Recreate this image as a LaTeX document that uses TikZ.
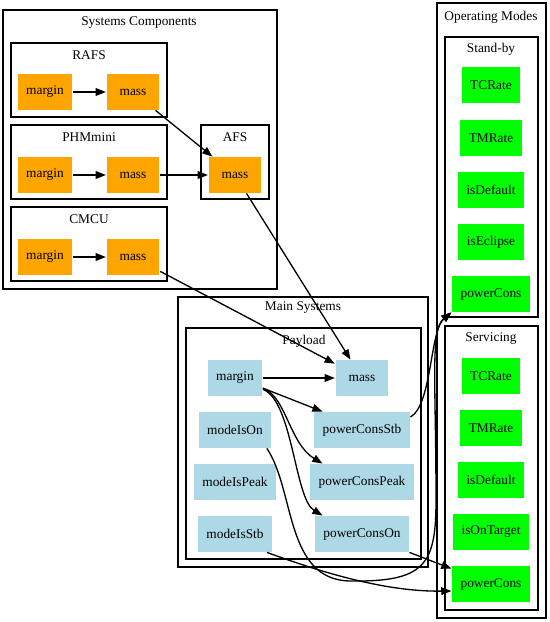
\documentclass[tikz,border=0pt]{standalone}
\usepackage{fontspec}
\setmainfont{Liberation Serif}
\usetikzlibrary{arrows.meta}
\definecolor{gvorange}{HTML}{FFA500}
\definecolor{gvblue}{HTML}{ADD8E6}
\definecolor{gvgreen}{HTML}{00FF00}

\begin{document}
\begin{tikzpicture}[x=0.02cm, y=-0.02cm, font=\fontsize{7.6}{9}\selectfont,
    >={Triangle[length=5.8pt,width=4.4pt]}, line width=0.75pt,
    box/.style={shape=rectangle, minimum width=1.06cm, minimum height=0.71cm, inner xsep=0.17cm},
    comp/.style={box, fill=gvorange},
    sys/.style={box, fill=gvblue},
    mode/.style={box, fill=gvgreen},
    cluster/.style={draw}]
      \useasboundingbox (0,0) rectangle (550,622);

      % clusters
      \draw[cluster] (3,10) rectangle (277,289);
      \node (lblsyscomp) at (139,23) {Systems Components};
      \draw[cluster] (11,43) rectangle (167,117);
      \node (lblrafs) at (89,55) {RAFS};
      \draw[cluster] (11,125) rectangle (167,199);
      \node (lblphm) at (89,137) {PHMmini};
      \draw[cluster] (11,207) rectangle (167,281);
      \node (lblcmcu) at (89,219) {CMCU};
      \draw[cluster] (201,125) rectangle (269,199);
      \node (lblafs) at (235,137) {AFS};

      \draw[cluster] (178,297) rectangle (428,567);
      \node (lblmainsys) at (303,308) {Main Systems};
      \draw[cluster] (186,328) rectangle (421,559);
      \node (lblpayload) at (304,341) {Payload};

      \draw[cluster] (437,3) rectangle (546,618);
      \node (lblopmodes) at (491,17) {Operating Modes};
      \draw[cluster] (445,37) rectangle (538,317);
      \node (lblstandby) at (491,49) {Stand-by};
      \draw[cluster] (445,326) rectangle (538,610);
      \node (lblservicing) at (491,339) {Servicing};

      % components
      \node[comp] (rafsmargin) at (45,92) {margin};
      \node[comp] (rafsmass) at (133,92) {mass};
      \node[comp] (phmmargin) at (45,175) {margin};
      \node[comp] (phmmass) at (133,175) {mass};
      \node[comp] (cmcumargin) at (45,257) {margin};
      \node[comp] (cmcumass) at (133,257) {mass};
      \node[comp] (afsmass) at (235,175) {mass};

      % payload
      \node[sys] (paymargin) at (235,378) {margin};
      \node[sys] (paymass) at (362,378) {mass};
      \node[sys] (paymodeon) at (235,430) {modeIsOn};
      \node[sys] (paystb) at (362,430) {powerConsStb};
      \node[sys] (paymodepeak) at (235,482) {modeIsPeak};
      \node[sys] (paypeak) at (362,482) {powerConsPeak};
      \node[sys] (paymodestb) at (235,534) {modeIsStb};
      \node[sys] (payon) at (362,534) {powerConsOn};

      % operating modes
      \node[mode] (sbtc) at (491,85) {TCRate};
      \node[mode] (sbtm) at (491,138) {TMRate};
      \node[mode] (sbdefault) at (491,190) {isDefault};
      \node[mode] (sbeclipse) at (491,242) {isEclipse};
      \node[mode] (sbpower) at (491,294) {powerCons};
      \node[mode] (srvtc) at (491,376) {TCRate};
      \node[mode] (srvtm) at (491,428) {TMRate};
      \node[mode] (srvdefault) at (491,480) {isDefault};
      \node[mode] (srvtarget) at (491,532) {isOnTarget};
      \node[mode] (srvpower) at (491,584) {powerCons};

      \draw[->] (rafsmargin) -- (rafsmass);
      \draw[->] (phmmargin) -- (phmmass);
      \draw[->] (cmcumargin) -- (cmcumass);
      \draw[->] (rafsmass) -- (afsmass);
      \draw[->] (phmmass) -- (afsmass);
      \draw[->] (afsmass) -- (paymass);
      \draw[->] (cmcumass) -- (paymass);

      \draw[->] (paymargin) -- (paymass);
      \draw[->] (paymargin.-20) -- (paystb.155);
      \draw[->] (paymargin.-20) .. controls +(23,8) and +(-33,-20) .. (paypeak.155);
      \draw[->] (paymargin.-22) .. controls +(30,12) and +(-28,-17) .. (payon.155);

      \draw[->] (paystb.15) .. controls (432,405) and (430,330) .. (sbpower.south west);
      \draw[->] (paymodeon.-30) .. controls (295,490) and (285,580) .. (350,581)
        .. controls (425,582) and (436,565) .. (436,500)
        .. controls (436,380) and (430,330) .. (sbpower.south west);
      \draw[->] (payon) -- (srvpower);
      \draw[->] (paymodestb.-30) .. controls (310,568) and (380,592) .. (srvpower.190);
    \end{tikzpicture}
\end{document}
